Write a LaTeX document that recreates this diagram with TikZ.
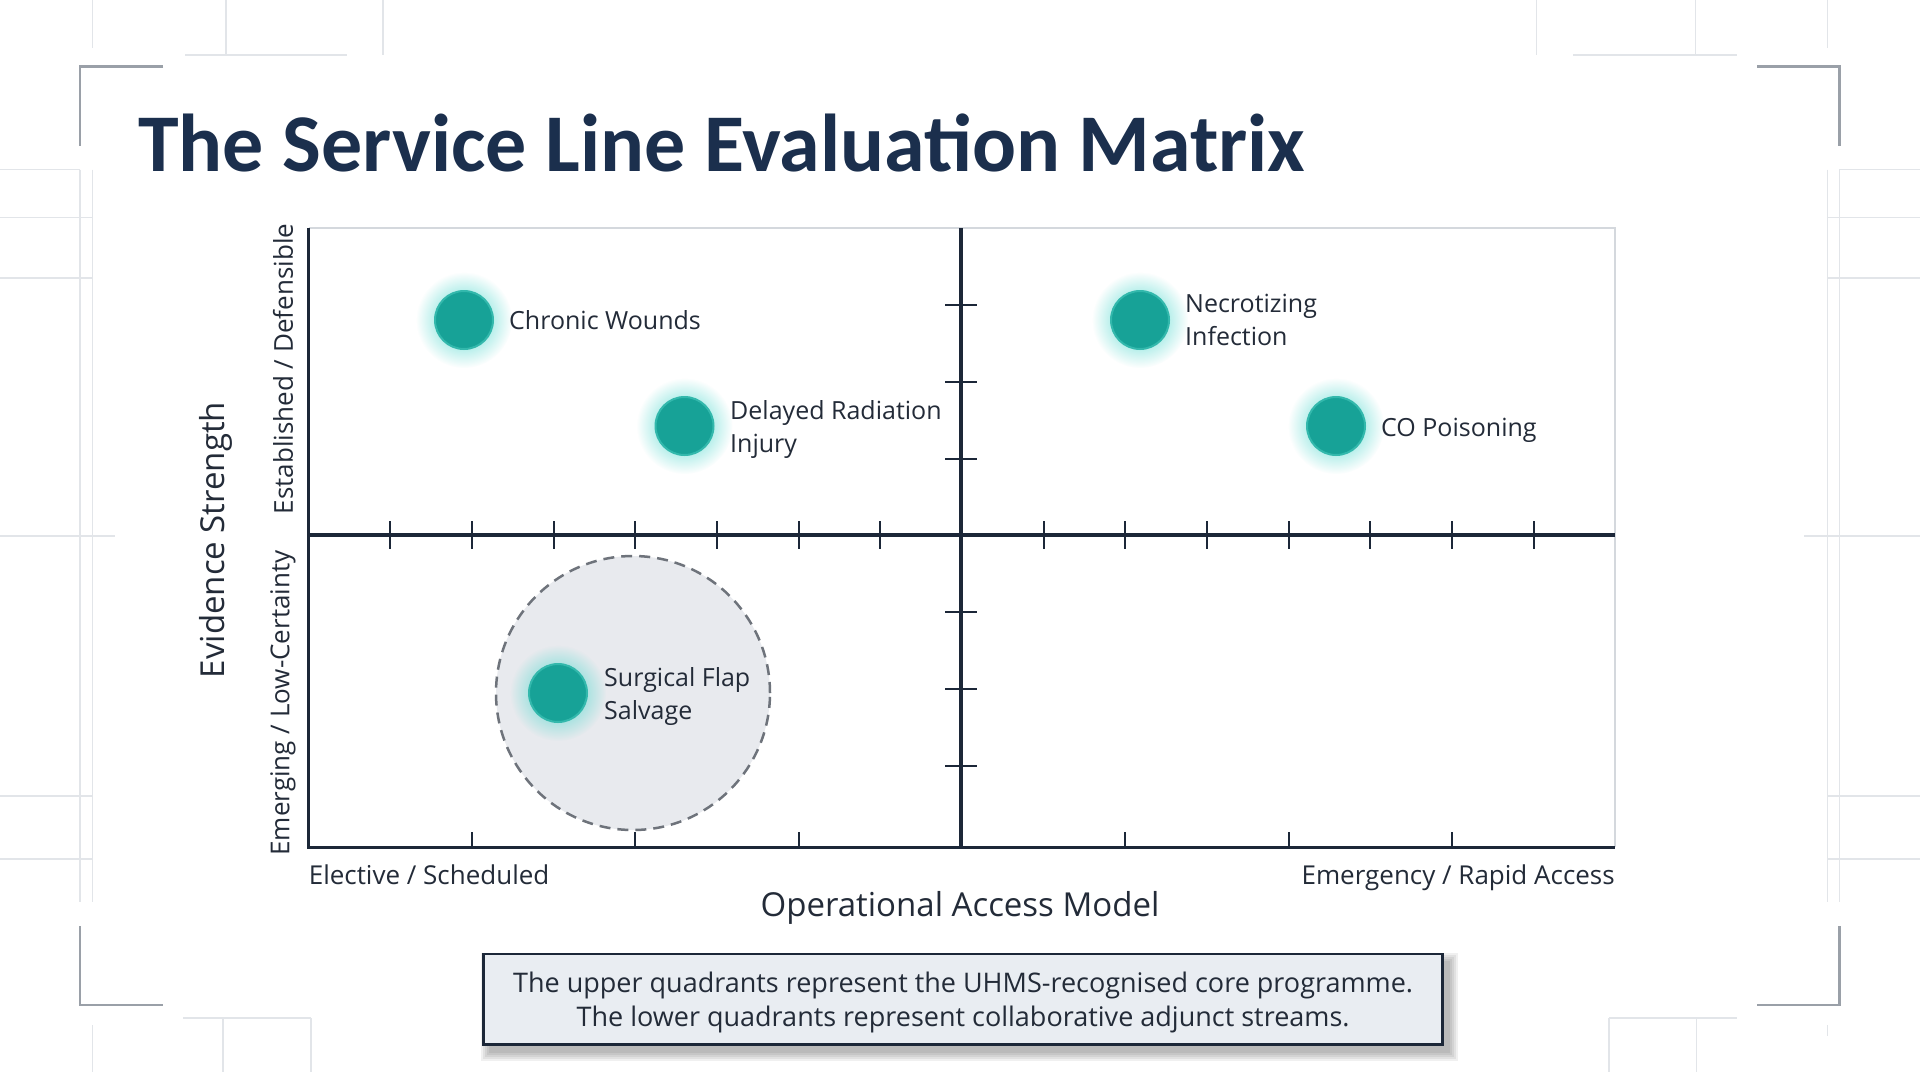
\documentclass[tikz,border=0pt]{standalone}
\usepackage{fontspec}
\setmainfont{Open Sans}
\newfontfamily\titlefont{Carlito}
\usetikzlibrary{fadings}
\definecolor{navy}{HTML}{1B2F4D}
\definecolor{axisc}{HTML}{1C2738}
\definecolor{txt}{HTML}{232B38}
\definecolor{gridc}{HTML}{E2E5E9}
\definecolor{brk}{HTML}{9AA0A8}
\definecolor{tealc}{HTML}{17A297}
\definecolor{tealedge}{HTML}{33B8AC}
\definecolor{glowc}{HTML}{4FD8CE}
\definecolor{zone}{HTML}{E8EAEE}
\definecolor{dashc}{HTML}{6E737B}
\definecolor{capfill}{HTML}{E9EDF2}
\definecolor{framec}{HTML}{D4D8DD}
\tikzfading[name=glowfade, inner color=transparent!0, outer color=transparent!100]
\begin{document}
\begin{tikzpicture}[x=1pt,y=-1pt,
  bgline/.style={draw=gridc, line width=1.5pt},
  bracket/.style={draw=brk, line width=2.5pt},
  axisline/.style={draw=axisc, line width=3.5pt},
  tickline/.style={draw=axisc, line width=2pt},
  dot/.style={circle, minimum size=58pt, inner sep=0pt, fill=tealc, draw=tealedge, line width=2pt},
  lbl/.style={anchor=west, inner sep=0pt, font=\fontsize{25}{33}\selectfont, text=txt, align=left},
  axlbl/.style={inner sep=0pt, font=\fontsize{26}{30}\selectfont, text=txt},
  bigax/.style={inner sep=0pt, font=\fontsize{33}{38}\selectfont, text=txt}
]
\useasboundingbox (0,0) rectangle (1920,1072);
\fill[white] (0,0) rectangle (1920,1072);

% background grid lines
\draw[bgline] (92.7,0) -- (92.7,48);
\draw[bgline] (226,0) -- (226,55);
\draw[bgline] (383,0) -- (383,55);
\draw[bgline] (185,55) -- (347,55);
\draw[bgline] (1536.5,0) -- (1536.5,55);
\draw[bgline] (1573,55) -- (1737,55);
\draw[bgline] (1695.6,0) -- (1695.6,55);
\draw[bgline] (1827.7,0) -- (1827.7,48);
\draw[bgline] (80,169.5) -- (80,902);
\draw[bgline] (92.7,169.5) -- (92.7,902);
\draw[bgline] (0,169.5) -- (80,169.5);
\foreach \yy in {217.4,278,796,859} \draw[bgline] (0,\yy) -- (92.7,\yy);
\draw[bgline] (0,536) -- (115,536);
\draw[bgline] (1827.7,169.5) -- (1827.7,902);
\draw[bgline] (1839.3,169.5) -- (1839.3,902);
\draw[bgline] (1839.3,169.5) -- (1920,169.5);
\foreach \yy in {217.4,278,796,859} \draw[bgline] (1827.7,\yy) -- (1920,\yy);
\draw[bgline] (1804,536) -- (1920,536);
\draw[bgline] (92.7,1025) -- (92.7,1072);
\draw[bgline] (183,1018) -- (311,1018);
\draw[bgline] (223,1018) -- (223,1072);
\draw[bgline] (311,1018) -- (311,1072);
\draw[bgline] (1609,1018) -- (1737,1018);
\draw[bgline] (1609,1018) -- (1609,1072);
\draw[bgline] (1696.7,1018) -- (1696.7,1072);
\draw[bgline] (1827.7,1025) -- (1827.7,1036);

% corner brackets
\draw[bracket] (163,66.5) -- (80,66.5) -- (80,146);
\draw[bracket] (1757,66.5) -- (1839.3,66.5) -- (1839.3,146);
\draw[bracket] (80,926) -- (80,1005) -- (163,1005);
\draw[bracket] (1757,1005) -- (1839.3,1005) -- (1839.3,926);

% title
\node[anchor=base west, inner sep=0pt, text=navy, font=\titlefont\bfseries\fontsize{82}{82}\selectfont] (title) at (138,171) {The Service Line Evaluation Matrix};

% plot frame
\draw[draw=framec, line width=2pt] (308.6,227.8) -- (1615,227.8) -- (1615,847.4);

% dashed zone
\node[circle, minimum size=274pt, inner sep=0pt, fill=zone, draw=dashc, line width=2.5pt, dash pattern=on 11pt off 7pt] (zoneA) at (633,693) {};

% glows
\foreach \p in {(464,320),(684.5,426),(1140,320),(1336,426),(558,693)}
  \fill[glowc, path fading=glowfade] \p circle (48);

% axes
\draw[axisline] (308.6,227.8) -- (308.6,847.4) -- (1615,847.4);
\draw[axisline] (961.2,227.8) -- (961.2,847.4);
\draw[axisline] (308.6,535.1) -- (1615,535.1);
\foreach \k in {1,...,7,9,10,...,15} \draw[tickline] (308.6+\k*81.66,521) -- (308.6+\k*81.66,549);
\foreach \k in {2,4,6,10,12,14} \draw[tickline] (308.6+\k*81.66,832) -- (308.6+\k*81.66,847.4);
\foreach \k in {1,2,3,5,6,7} \draw[tickline] (945,227.8+\k*76.9) -- (977,227.8+\k*76.9);

% dots
\node[dot] (cw) at (464,320) {};
\node[dot] (dri) at (684.5,426) {};
\node[dot] (ni) at (1140,320) {};
\node[dot] (co) at (1336,426) {};
\node[dot] (sfs) at (558,693) {};

\node[lbl] (cwl) at (509,320) {Chronic Wounds};
\node[lbl] (dril) at (730,429) {Delayed Radiation\\Injury};
\node[lbl] (nil) at (1185,320) {Necrotizing\\Infection};
\node[lbl] (col) at (1381,430) {CO Poisoning};
\node[lbl] (sfsl) at (604,696) {Surgical Flap\\Salvage};

% axis labels
\node[bigax, rotate=90] (ylab) at (215.5,540) {Evidence Strength};
\node[axlbl, rotate=90] (yhi) at (283,369) {Established / Defensible};
\node[axlbl, rotate=90] (ylo) at (283,703) {Emerging / Low-Certainty};
\node[axlbl, anchor=base west] (xlo) at (308.6,884) {Elective / Scheduled};
\node[axlbl, anchor=base east] (xhi) at (1615,884) {Emergency / Rapid Access};
\node[bigax] (xlab) at (960,908) {Operational Access Model};

% caption shadow
\foreach \s in {0,2,4,6,8}
  \fill[black, opacity=0.06] (488.7-\s,961-\s) rectangle (1449.5+\s,1052.5+\s);
\node[draw=axisc, line width=2.5pt, fill=capfill, minimum width=959pt, minimum height=90.5pt, inner sep=0pt] (cap) at (963.1,999.25) {};
\node[inner sep=0pt, align=center, text=txt, font=\fontsize{27}{34.5}\selectfont] (captxt) at ([yshift=-3pt]cap.center) {The upper quadrants represent the UHMS-recognised core programme.\\The lower quadrants represent collaborative adjunct streams.};
\end{tikzpicture}
\end{document}
